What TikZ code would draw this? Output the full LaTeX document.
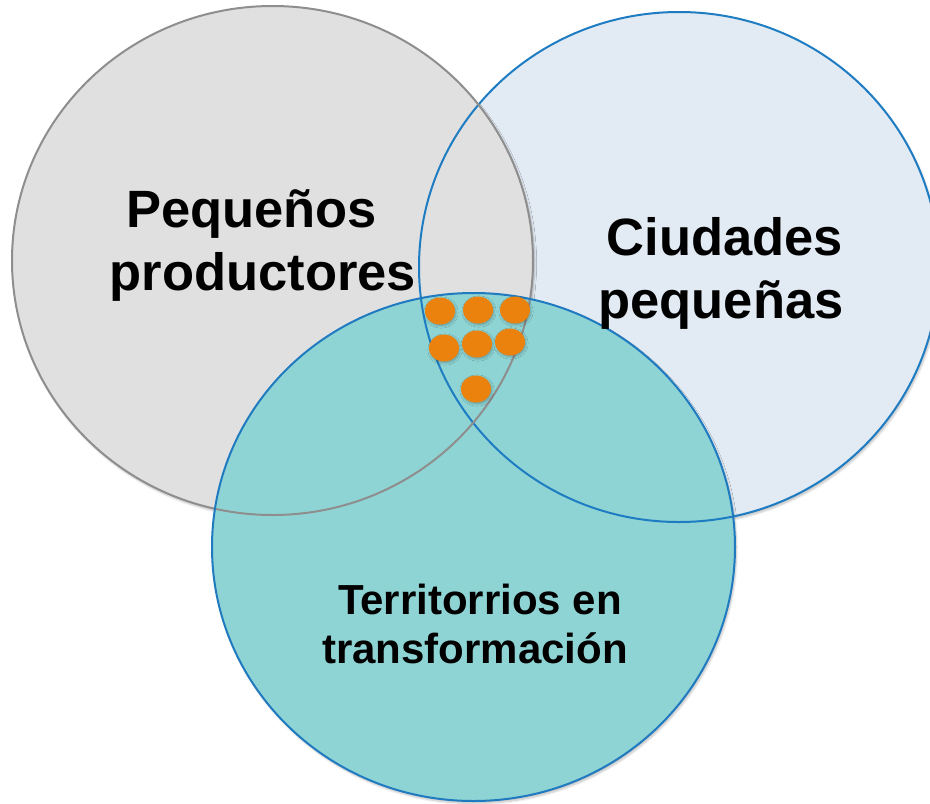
\documentclass[tikz,border=0pt]{standalone}
\usepackage{fontspec}
\setmainfont{Liberation Sans}
\usetikzlibrary{shapes.geometric,shadows.blur}
\definecolor{grayfill}{HTML}{E0E0E0}
\definecolor{graystroke}{HTML}{8E8E8E}
\definecolor{bluefill}{HTML}{E2EAF3}
\definecolor{bluestroke}{HTML}{1E7CC2}
\definecolor{tealfill}{HTML}{8FD4D4}
\definecolor{tealstroke}{HTML}{1F7AC0}
\definecolor{dotorange}{HTML}{EB820E}
\tikzset{
  bigshadow/.style={blur shadow={shadow xshift=1.5pt,shadow yshift=-2.5pt,shadow blur steps=6,shadow opacity=25}},
  bigtext/.style={anchor=base,inner sep=0pt,font=\fontsize{52.5}{63}\selectfont\bfseries},
  midtext/.style={anchor=base,inner sep=0pt,font=\fontsize{42}{50}\selectfont\bfseries},
  dotnode/.style={ellipse,fill=dotorange,inner sep=0pt,minimum width=30pt,minimum height=27pt,
    blur shadow={shadow xshift=1pt,shadow yshift=-1.5pt,shadow blur steps=4,shadow opacity=25}},
  ringline/.style={line width=2pt}
}
\begin{document}
\begin{tikzpicture}[x=1pt,y=-1pt]
\useasboundingbox (0,0) rectangle (930,804);
\clip (0,0) rectangle (930,804);
\coordinate (cg) at (272.5,260.5);
\coordinate (cb) at (679,267);
\coordinate (ct) at (473.5,547);
% fills
\fill[bluefill,bigshadow] (cb) ellipse [x radius=260pt,y radius=255pt];
\fill[grayfill,bigshadow] (cg) ellipse [x radius=260.5pt,y radius=254.5pt];
\fill[tealfill,bigshadow] (ct) ellipse [x radius=261.5pt,y radius=254pt];
% outlines
\draw[ringline,bluestroke] (cb) ellipse [x radius=260pt,y radius=255pt];
\draw[ringline,graystroke] (cg) ellipse [x radius=260.5pt,y radius=254.5pt];
\draw[ringline,tealstroke] (ct) ellipse [x radius=261.5pt,y radius=254pt];
% labels
\node[bigtext] (pp1) at (251.5,227) {Pequeños};
\node[bigtext] (pp2) at (263,290) {productores};
\node[bigtext] (cp1) at (725,255) {Ciudades};
\node[bigtext] (cp2) at (721,318) {pequeñas};
\node[midtext] (tt1) at (480,614) {Territorrios en};
\node[midtext] (tt2) at (475,663) {transformación};
% dots
\node[dotnode] (d1) at (440,311) {};
\node[dotnode] (d2) at (478,310) {};
\node[dotnode] (d3) at (515,310) {};
\node[dotnode] (d4) at (444,348) {};
\node[dotnode] (d5) at (477,344) {};
\node[dotnode] (d6) at (510,342) {};
\node[dotnode] (d7) at (476,389) {};
\end{tikzpicture}
\end{document}
